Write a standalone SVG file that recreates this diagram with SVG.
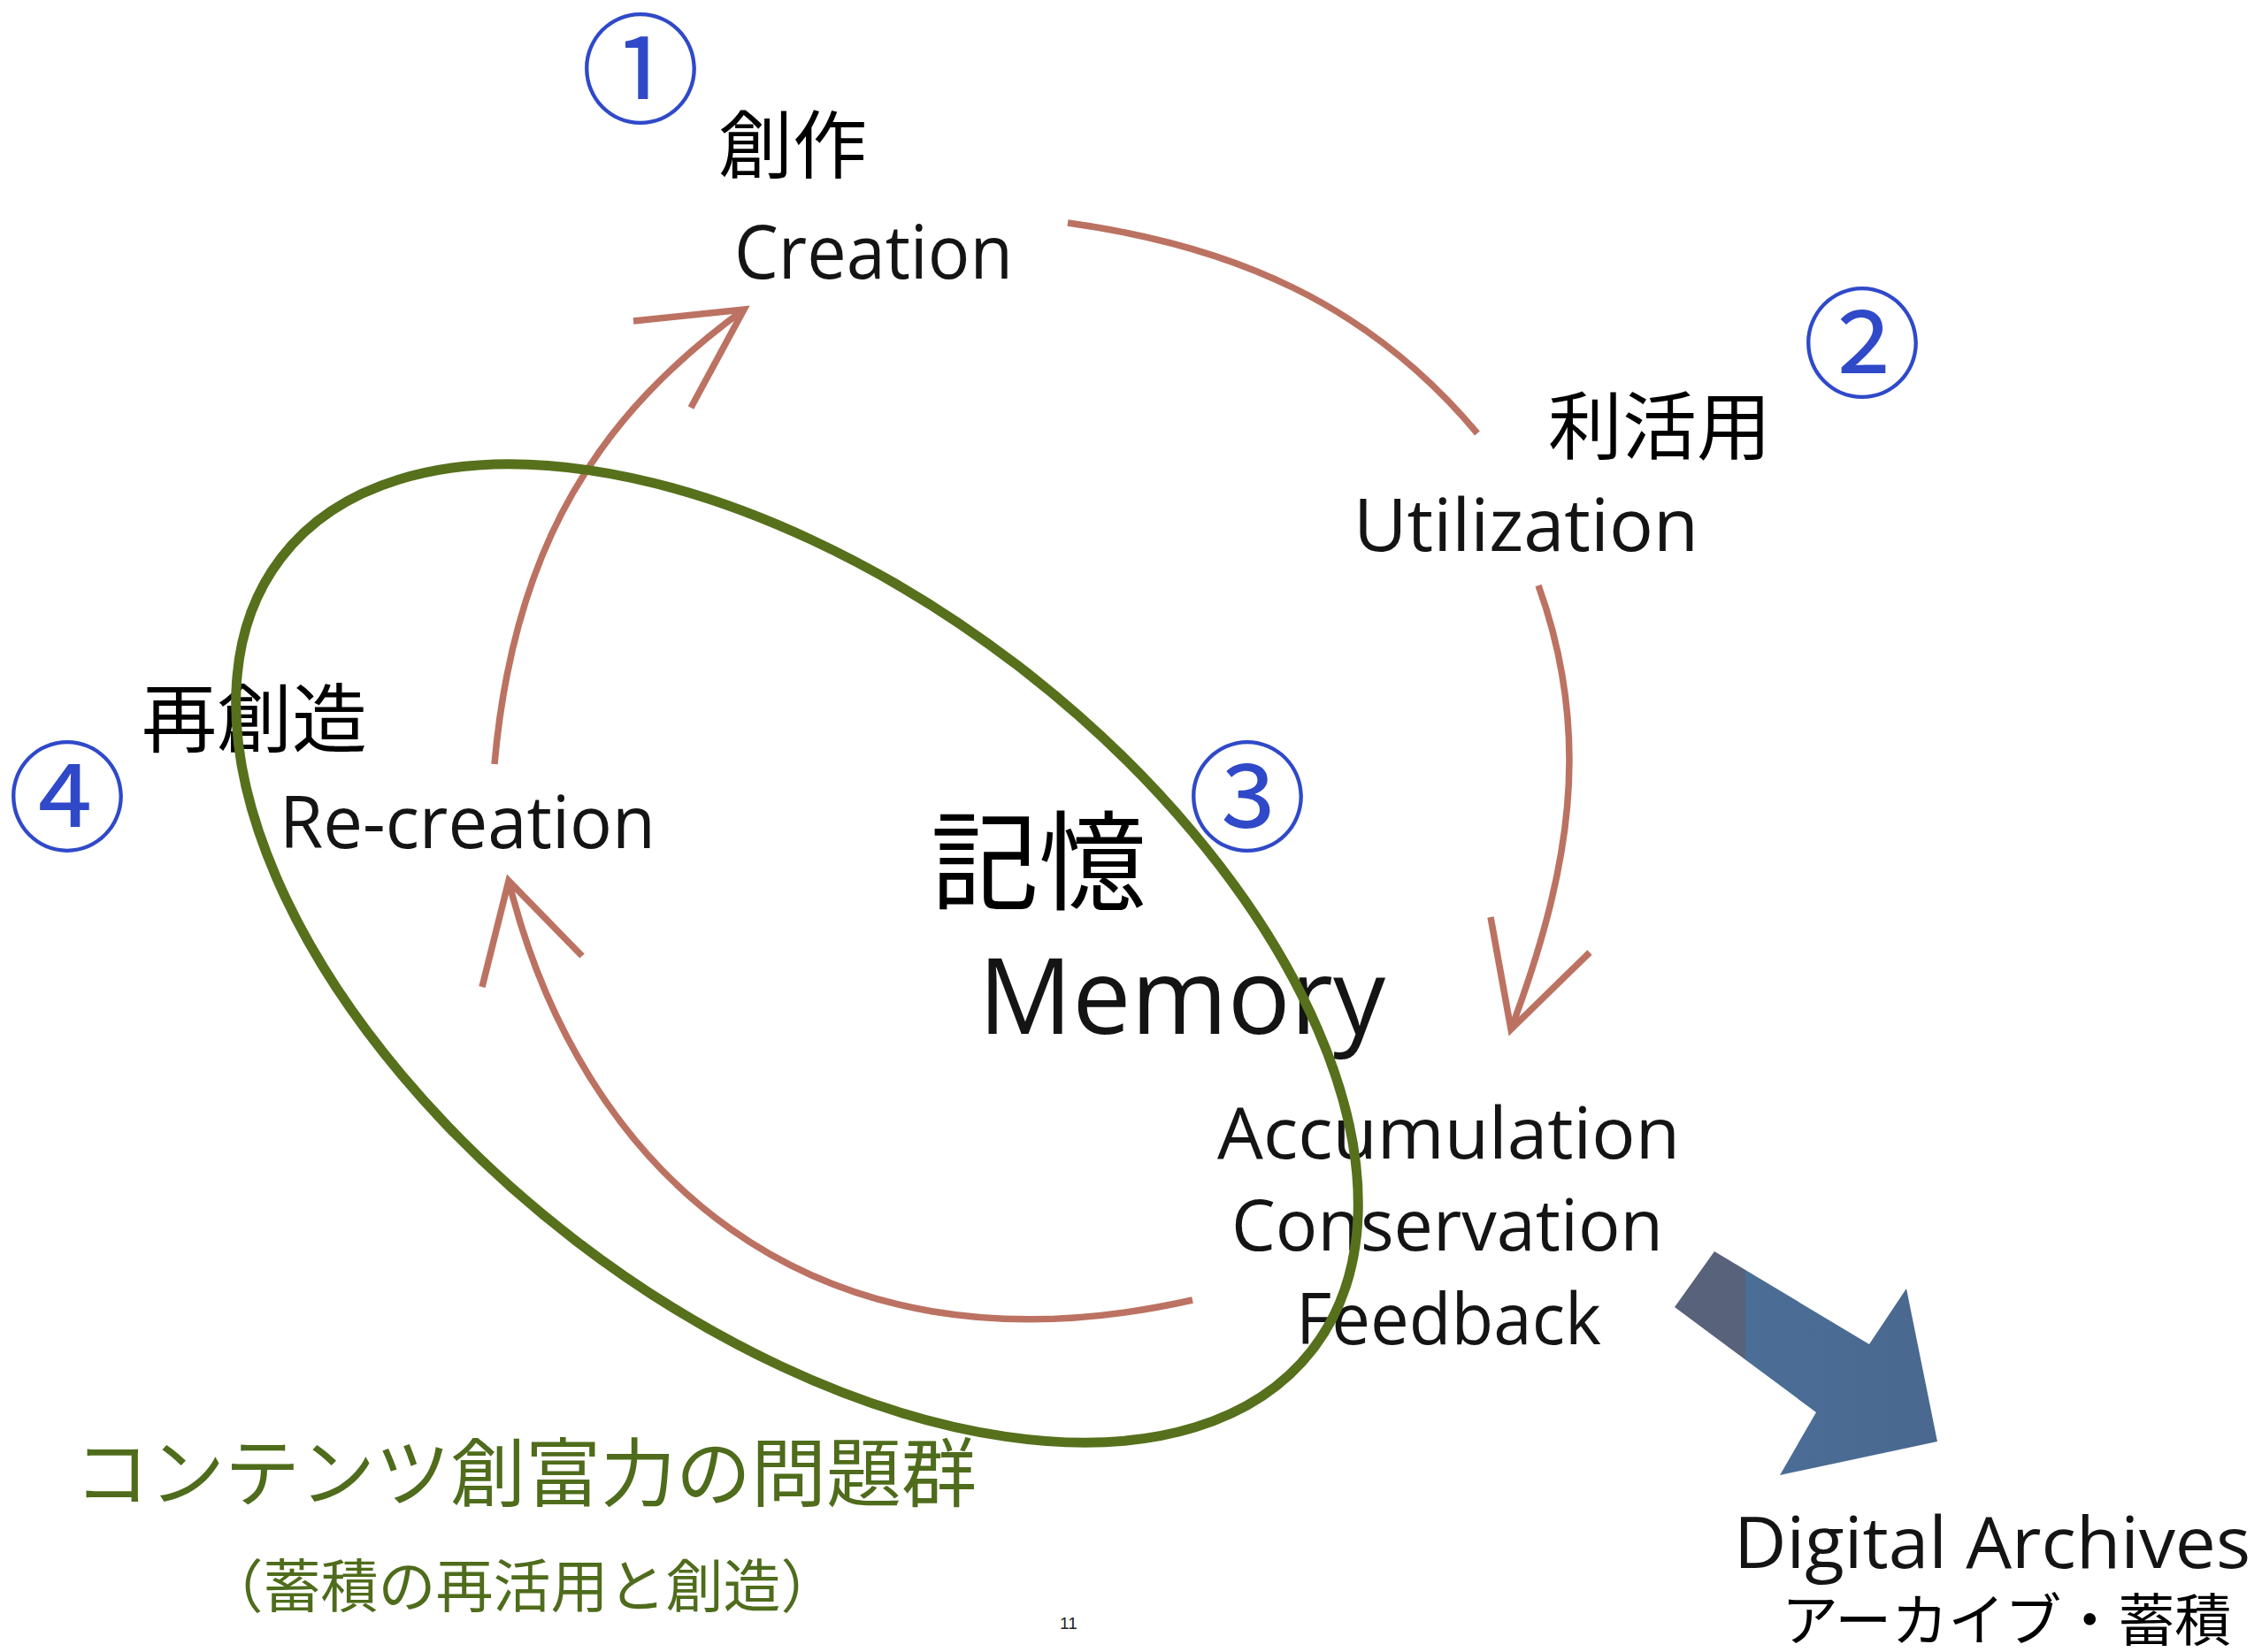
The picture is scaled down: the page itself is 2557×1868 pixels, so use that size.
<svg xmlns="http://www.w3.org/2000/svg" width="2557" height="1868" viewBox="0 0 2557 1868">
  <defs>
    <style>
      .en { font-family: "Open Sans", "Liberation Sans", sans-serif; fill: #141414; }
      .jp { font-family: "Noto Sans CJK JP", sans-serif; fill: #000000; }
      .green { font-family: "Noto Sans CJK JP", sans-serif; fill: #4e6c1b; }
      .num { font-family: "Liberation Serif", "Noto Sans CJK JP", serif; fill: #2f49c9; font-size: 135px; text-anchor: middle; }
      .arc { fill: none; stroke: #bc7262; stroke-width: 7.5; stroke-linecap: butt; stroke-linejoin: miter; }
      .ring { fill: none; stroke: #56701c; stroke-width: 11; }
    </style>
    <linearGradient id="blueArrow" gradientUnits="userSpaceOnUse" x1="1893" y1="0" x2="2190" y2="0">
      <stop offset="0" stop-color="#58627a"/>
      <stop offset="0.27" stop-color="#58627a"/>
      <stop offset="0.27" stop-color="#4b6e96"/>
      <stop offset="1" stop-color="#4a6890"/>
    </linearGradient>
  </defs>
  <rect x="0" y="0" width="2557" height="1868" fill="#ffffff"/>

  <g id="connectors">
    <!-- Creation -> Utilization -->
    <path class="arc" d="M1207,252 C1395,278 1548,344 1670,490"/>
    <!-- Utilization -> Memory -->
    <path class="arc" d="M1739,662 C1802,836 1773,990 1708,1164"/>
    <polyline class="arc" points="1685,1037 1708,1164 1797,1077"/>
    <!-- Memory -> Re-creation -->
    <path class="arc" d="M1348,1470 C909,1569 654,1316 575,996"/>
    <polyline class="arc" points="545,1116 575,996 658,1081"/>
    <!-- Re-creation -> Creation -->
    <path class="arc" d="M559,864 C581,614 679,468 841,350"/>
    <polyline class="arc" points="716,363 841,350 781,461"/>
    <!-- to Digital Archives -->
    <polygon fill="url(#blueArrow)" points="1938,1415 2113,1520 2155,1457 2190,1630 2012,1668 2053,1597 1893,1478"/>
  </g>

  <g id="node-creation">
    <text class="num" x="724" y="129">①</text>
    <text class="jp" x="812" y="195" font-size="84">創作</text>
    <text class="en" x="830" y="315" font-size="84" textLength="315" lengthAdjust="spacingAndGlyphs">Creation</text>
  </g>

  <g id="node-utilization">
    <text class="num" x="2105" y="439">②</text>
    <text class="jp" x="1750" y="513" font-size="84">利活用</text>
    <text class="en" x="1530" y="623" font-size="83" textLength="390" lengthAdjust="spacingAndGlyphs">Utilization</text>
  </g>

  <g id="node-recreation">
    <text class="num" x="76" y="952">④</text>
    <text class="jp" x="160" y="844" font-size="85">再創造</text>
    <text class="en" x="316" y="959" font-size="82" textLength="425" lengthAdjust="spacingAndGlyphs">Re-creation</text>
  </g>

  <g id="node-memory">
    <text class="num" x="1410" y="952">③</text>
    <text class="jp" x="1052" y="1019" font-size="122">記憶</text>
    <text class="en" x="1106" y="1169" font-size="119" textLength="460" lengthAdjust="spacingAndGlyphs">Memory</text>
    <text class="en" x="1376" y="1310" font-size="80" textLength="523" lengthAdjust="spacingAndGlyphs">Accumulation</text>
    <text class="en" x="1392" y="1414" font-size="80" textLength="488" lengthAdjust="spacingAndGlyphs">Conservation</text>
    <text class="en" x="1465" y="1520" font-size="80" textLength="345" lengthAdjust="spacingAndGlyphs">Feedback</text>
  </g>

  <g id="node-archives">
    <text class="en" x="1960" y="1773" font-size="81" textLength="584" lengthAdjust="spacingAndGlyphs">Digital Archives</text>
    <text class="jp" x="2014" y="1855" font-size="64">アーカイブ・蓄積</text>
  </g>

  <g id="problem-area">
    <ellipse class="ring" cx="901" cy="1078" rx="735" ry="410" transform="rotate(37.5 901 1078)"/>
    <text class="green" x="84" y="1697" font-size="85">コンテンツ創富力の問題群</text>
    <text class="green" x="590" y="1817" font-size="65" text-anchor="middle">（蓄積の再活用と創造）</text>
  </g>

  <text x="1198" y="1842" font-family="Liberation Sans, sans-serif" font-size="19" fill="#222222">11</text>
</svg>
